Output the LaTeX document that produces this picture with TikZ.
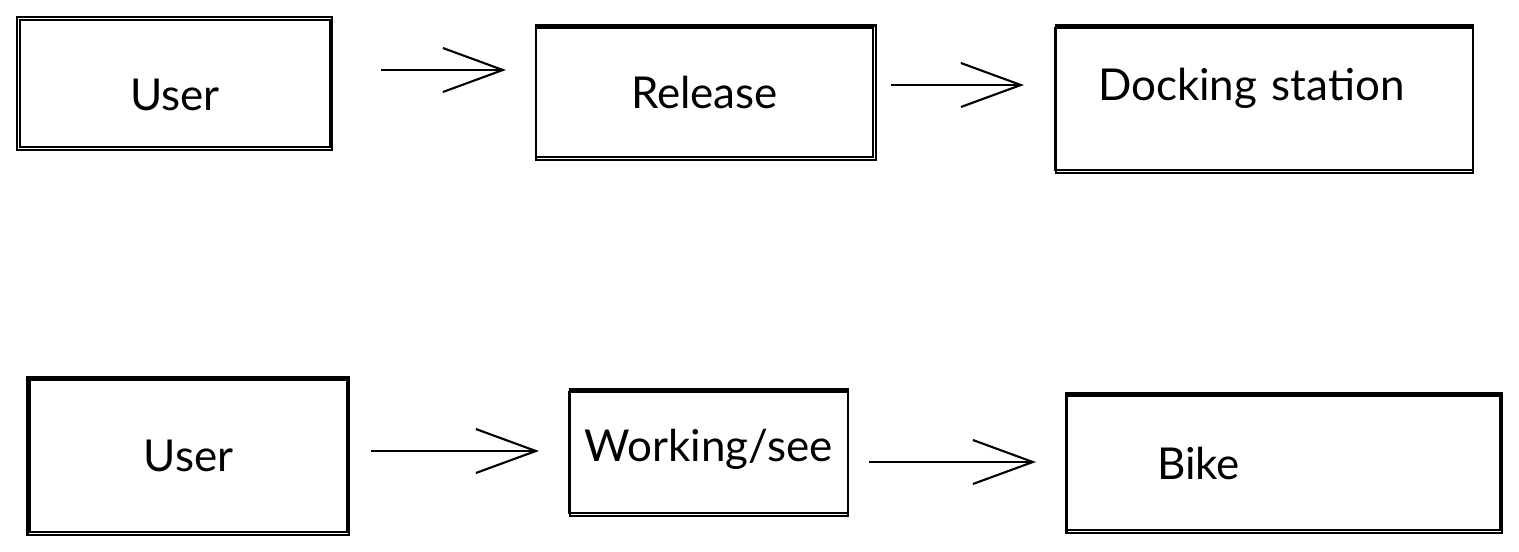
\documentclass[tikz,border=0pt]{standalone}
\usepackage{fontspec}
\setmainfont{Lato}
\usetikzlibrary{arrows.meta}

\begin{document}
\begin{tikzpicture}[line width=0.6pt]
\tikzstyle{box} = [draw,font=\fontsize{12.5}{14}\selectfont,inner sep=0pt]
\tikzstyle{arr} = [-{Straight Barb[length=6mm,width=4.4mm]}]
\useasboundingbox (0,0) rectangle (15.19,-5.51);

%%%%%% Linha 1
\node[box,minimum width=3.10cm,minimum height=1.27cm,text height=0.55cm] (user1) at (1.75,-0.835) {User};
\node[box,minimum width=3.37cm,minimum height=1.29cm] (release) at (7.045,-0.925) {Release};
\node[box,minimum width=4.18cm,minimum height=1.42cm,text width=3.32cm,align=left,inner xsep=0.43cm,text depth=0.3cm] (dock) at (12.64,-0.99) {Docking station};

%%%%%% Linha 2
\node[box,minimum width=3.17cm,minimum height=1.52cm] (user2) at (1.885,-4.56) {User};
\node[box,minimum width=2.79cm,minimum height=1.21cm,text depth=0.15cm] (work) at (7.085,-4.525) {Working/see};
\node[box,minimum width=4.34cm,minimum height=1.34cm,text width=2.52cm,align=left,inner xsep=0.91cm] (bike) at (12.83,-4.63) {Bike};

%%%%%% Traço duplo
\draw ([shift={(-0.015,0.02)}]user1.north west) rectangle ([shift={(0.01,-0.015)}]user1.south east);
\draw ([shift={(0.01,0.015)}]release.north west) rectangle ([shift={(0.015,-0.02)}]release.south east);
\draw ([shift={(0.02,0.015)}]dock.north west) rectangle ([shift={(-0.01,-0.015)}]dock.south east);
\draw ([shift={(-0.015,0.015)}]user2.north west) rectangle ([shift={(0.01,-0.02)}]user2.south east);
\draw ([shift={(0.02,0.015)}]work.north west) rectangle ([shift={(-0.01,-0.015)}]work.south east);
\draw ([shift={(0.015,0.015)}]bike.north west) rectangle ([shift={(0.01,-0.02)}]bike.south east);

%%%%%% Setas
\draw[arr,shorten <=0.5cm,shorten >=0.29cm] ([yshift=0.135cm]user1.east) -- ([yshift=0.135cm]user1.east -| release.west);
\draw[arr,shorten <=0.17cm,shorten >=0.30cm] ([yshift=0.075cm]release.east) -- ([yshift=0.075cm]release.east -| dock.west);
\draw[arr,shorten <=0.23cm,shorten >=0.29cm] ([yshift=0.05cm]user2.east) -- ([yshift=0.05cm]user2.east -| work.west);
\draw[arr,shorten <=0.20cm,shorten >=0.29cm] ([yshift=-0.095cm]work.east) -- ([yshift=-0.095cm]work.east -| bike.west);
\end{tikzpicture}
\end{document}
